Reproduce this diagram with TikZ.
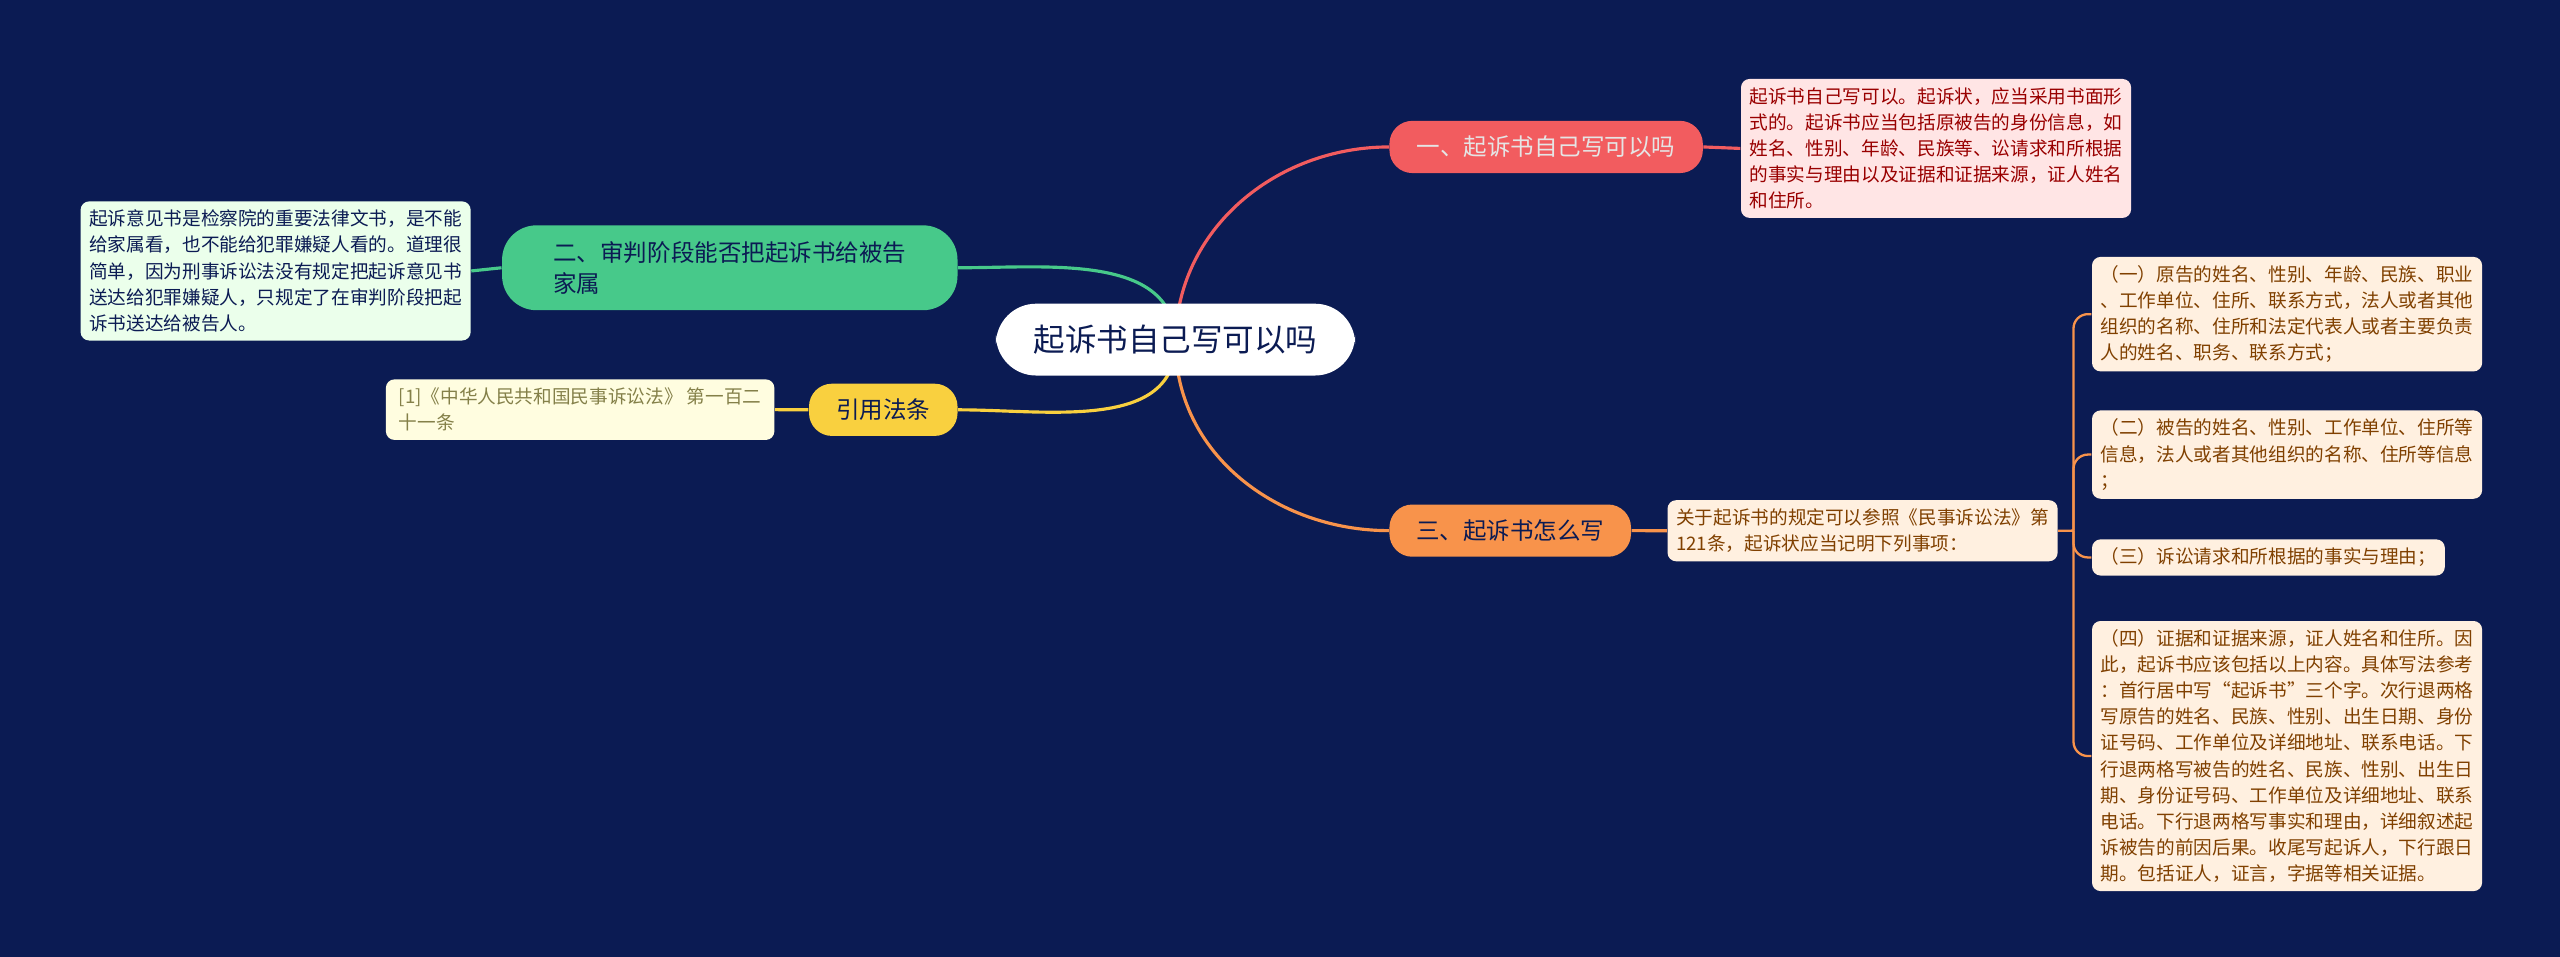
\documentclass[tikz,border=0pt]{standalone}
\usepackage{fontspec}
\setmainfont{Noto Sans CJK SC}
\begin{document}
\begin{tikzpicture}[x=0.02cm,y=-0.02cm,
 leaf/.style={rounded corners=3pt,inner sep=3pt,align=left,anchor=north west,font=\fontsize{6.5}{9.1}\selectfont},
 br/.style={rounded corners=8pt,minimum height=0.64cm,inner xsep=8pt,font=\fontsize{8.2}{11}\selectfont},
 ln/.style={line width=1.1pt}]
\definecolor{bg}{HTML}{0B1B53}
\definecolor{cr}{HTML}{F25C5F}\definecolor{cg}{HTML}{47C98A}
\definecolor{cy}{HTML}{F9D03F}\definecolor{co}{HTML}{F8934B}
\fill[bg] (0,0) rectangle (1568,586);
\useasboundingbox (0,0) rectangle (1568,586);
\coordinate (hub) at (720,210);
\node[br,fill=cr,text=white!90!black,minimum width=3.84cm] (b1) at (947,90) {一、起诉书自己写可以吗};
\node[br,fill=cg,text=bg,minimum width=5.58cm,minimum height=1.04cm,align=left,rounded corners=12pt] (b2) at (447,164) {二、审判阶段能否把起诉书给被告\\家属};
\node[br,fill=cy,text=bg,minimum width=1.82cm] (b3) at (541,251) {引用法条};
\node[br,fill=co,text=bg,minimum width=2.96cm] (b4) at (925,325) {三、起诉书怎么写};
\draw[ln,cr] (hub) to[out=90,in=180] (b1.west);
\draw[ln,cg] (hub) to[out=90,in=0] (b2.east);
\draw[ln,cy] (hub) to[out=-90,in=0] (b3.east);
\draw[ln,co] (hub) to[out=-90,in=180] (b4.west);
\node[fill=white,rounded corners=14pt,minimum width=4.4cm,minimum height=0.88cm,font=\fontsize{11}{13}\selectfont,text=bg] (c) at (720,208) {起诉书自己写可以吗};
\node[leaf,fill=red!10,text=red!60!black,minimum width=4.74cm] (l1) at (1066,48) {起诉书自己写可以。起诉状，应当采用书面形\\式的。起诉书应当包括原被告的身份信息，如\\姓名、性别、年龄、民族等、讼请求和所根据\\的事实与理由以及证据和证据来源，证人姓名\\和住所。};
\node[leaf,fill=green!8,text=bg,minimum width=4.74cm] (l2) at (49,123) {起诉意见书是检察院的重要法律文书，是不能\\给家属看，也不能给犯罪嫌疑人看的。道理很\\简单，因为刑事诉讼法没有规定把起诉意见书\\送达给犯罪嫌疑人，只规定了在审判阶段把起\\诉书送达给被告人。};
\node[leaf,fill=yellow!12,text=yellow!45!black,minimum width=4.76cm] (l3) at (236,232) {[1]《中华人民共和国民事诉讼法》 第一百二\\十一条};
\node[leaf,fill=orange!12,text=orange!50!black,minimum width=4.22cm] (l4) at (1021,306) {关于起诉书的规定可以参照《民事诉讼法》第\\121条，起诉状应当记明下列事项：};
\node[leaf,fill=orange!12,text=orange!50!black,minimum width=4.74cm] (s1) at (1281,157) {（一）原告的姓名、性别、年龄、民族、职业\\、工作单位、住所、联系方式，法人或者其他\\组织的名称、住所和法定代表人或者主要负责\\人的姓名、职务、联系方式；};
\node[leaf,fill=orange!12,text=orange!50!black,minimum width=4.74cm] (s2) at (1281,251) {（二）被告的姓名、性别、工作单位、住所等\\信息，法人或者其他组织的名称、住所等信息\\；};
\node[leaf,fill=orange!12,text=orange!50!black,minimum width=4.3cm] (s3) at (1281,330) {（三）诉讼请求和所根据的事实与理由；};
\node[leaf,fill=orange!12,text=orange!50!black,minimum width=4.74cm] (s4) at (1281,380) {（四）证据和证据来源，证人姓名和住所。因\\此，起诉书应该包括以上内容。具体写法参考\\：首行居中写“起诉书”三个字。次行退两格\\写原告的姓名、民族、性别、出生日期、身份\\证号码、工作单位及详细地址、联系电话。下\\行退两格写被告的姓名、民族、性别、出生日\\期、身份证号码、工作单位及详细地址、联系\\电话。下行退两格写事实和理由，详细叙述起\\诉被告的前因后果。收尾写起诉人，下行跟日\\期。包括证人，证言，字据等相关证据。};
\draw[ln,cr] (b1.east) -- (l1.west);
\draw[ln,cg] (b2.west) -- (l2.east);
\draw[ln,cy] (b3.west) -- (l3.east);
\draw[ln,co] (b4.east) -- (l4.west);
\coordinate (j) at (1270,325);
\draw[co,line width=0.8pt] (l4.east) -- (j);
\foreach \s in {s1,s2,s3,s4}{\draw[co,line width=0.8pt,rounded corners=5pt] (j) |- (\s.west);}
\end{tikzpicture}
\end{document}
